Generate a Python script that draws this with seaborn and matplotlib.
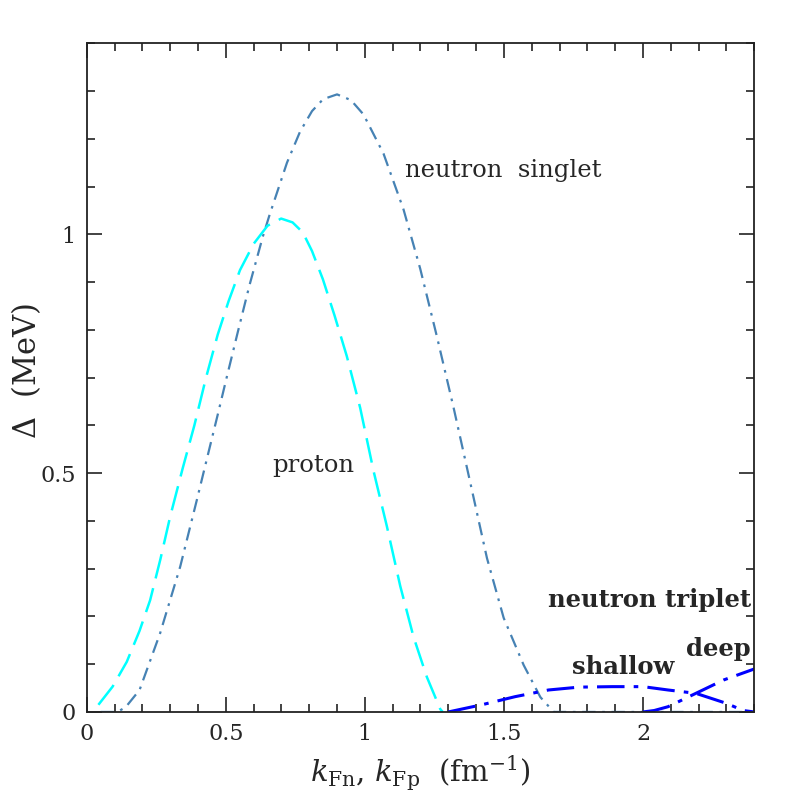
import numpy as np
import pandas as pd
import matplotlib
matplotlib.use('Agg')
import matplotlib.pyplot as plt
from matplotlib.ticker import MultipleLocator
import seaborn as sns

# values
singlet_k = [0.05, 0.11, 0.14, 0.19, 0.264, 0.336, 0.396, 0.43, 0.47, 0.501, 0.543, 0.585,
             0.633, 0.657, 0.72, 0.767, 0.81, 0.85, 0.90, 0.95, 0.995, 1.067, 1.139, 1.199,
             1.259, 1.319, 1.379, 1.439, 1.499, 1.571, 1.631, 1.679, 2.40]
singlet_gap = [0.0, 0.0, 0.01, 0.046, 0.165, 0.304, 0.444, 0.525, 0.62, 0.695, 0.795, 0.893,
               0.995, 1.04, 1.15, 1.215, 1.258, 1.283, 1.293, 1.281, 1.251, 1.169, 1.052, 0.928,
               0.786, 0.637, 0.48, 0.322, 0.197, 0.098, 0.031, 0.0, 0.0]

proton_k = [0.042, 0.093, 0.144, 0.19, 0.228, 0.265, 0.30, 0.345, 0.387, 0.429, 0.471, 0.51,
            0.551, 0.60, 0.65, 0.699, 0.74, 0.777, 0.81, 0.849, 0.891, 0.935, 0.983, 1.031,
            1.079, 1.127, 1.175, 1.223, 1.271, 1.28]
proton_gap = [0.015, 0.053, 0.105, 0.17, 0.234, 0.32, 0.409, 0.51, 0.60, 0.70, 0.79, 0.86,
              0.925, 0.98, 1.018, 1.033, 1.025, 1.004, 0.965, 0.906, 0.83, 0.745, 0.637, 0.505,
              0.389, 0.264, 0.157, 0.073, 0.006, 0.0]

shallow_k = [1.30, 1.42, 1.54, 1.66, 1.77, 1.89, 2.00, 2.09, 2.19, 2.30, 2.36, 2.40]
shallow_gap = [0.0, 0.015, 0.032, 0.046, 0.052, 0.053, 0.053, 0.046, 0.039, 0.018, 0.003, 0.0]

deep_k = [2.00, 2.04, 2.09, 2.19, 2.29, 2.40]
deep_gap = [0.0, 0.003, 0.011, 0.039, 0.067, 0.090]

sns.set_style('ticks')
plt.rcParams['font.family'] = ['DejaVu Serif']
plt.rcParams['mathtext.fontset'] = 'dejavuserif'

fig = plt.figure(figsize=(7.97, 7.97), dpi=100)
ax = fig.add_axes([0.1088, 0.1067, 0.8376, 0.839])

curves = [
    (singlet_k, singlet_gap, '#4682b4', (0, (6, 3, 1.2, 3)), 1.6),
    (proton_k, proton_gap, '#00ffff', (0, (10, 4)), 1.8),
    (shallow_k, shallow_gap, '#0000ff', (0, (9, 3, 1.5, 3)), 2.2),
    (deep_k, deep_gap, '#0000ff', (0, (9, 3, 1.5, 3)), 2.2),
]
for k, gap, color, ls, lw in curves:
    df = pd.DataFrame({'k': k, 'gap': gap})
    sns.lineplot(data=df, x='k', y='gap', ax=ax, color=color, linewidth=lw,
                 sort=False, estimator=None)
    ax.lines[-1].set_linestyle(ls)

ax.set_xlim(0, 2.4)
ax.set_ylim(0, 1.4)
ax.xaxis.set_minor_locator(MultipleLocator(0.1))
ax.yaxis.set_minor_locator(MultipleLocator(0.1))
ax.set_xticks([0, 0.5, 1, 1.5, 2])
ax.set_xticklabels(['0', '0.5', '1', '1.5', '2'])
ax.set_yticks([0, 0.5, 1])
ax.set_yticklabels(['0', '0.5', '1'])
ax.tick_params(which='both', direction='in', top=True, right=True, labelsize=16,
               color='#222222', width=1.2)
ax.tick_params(which='major', length=11, pad=8)
ax.tick_params(which='minor', length=6)
for s in ax.spines.values():
    s.set_linewidth(1.3)
    s.set_color('#222222')

ax.set_xlabel(r'$k_{\rm Fn}$, $k_{\rm Fp}$  (fm$^{-1}$)', fontsize=21, labelpad=6)
ax.set_ylabel(r'$\Delta$  (MeV)', fontsize=22)
ax.yaxis.set_label_coords(-0.066, 0.51)

ax.text(1.145, 1.134, 'neutron  singlet', fontsize=17.5, va='center', ha='left')
ax.text(0.667, 0.515, 'proton', fontsize=17.5, va='center', ha='left')
ax.text(2.387, 0.234, 'neutron triplet', fontsize=17.5, fontweight='bold', va='center', ha='right')
ax.text(2.387, 0.132, 'deep', fontsize=17.5, fontweight='bold', va='center', ha='right')
ax.text(1.93, 0.094, 'shallow', fontsize=17.5, fontweight='bold', va='center', ha='center')

fig.savefig('out.png', dpi=100)
